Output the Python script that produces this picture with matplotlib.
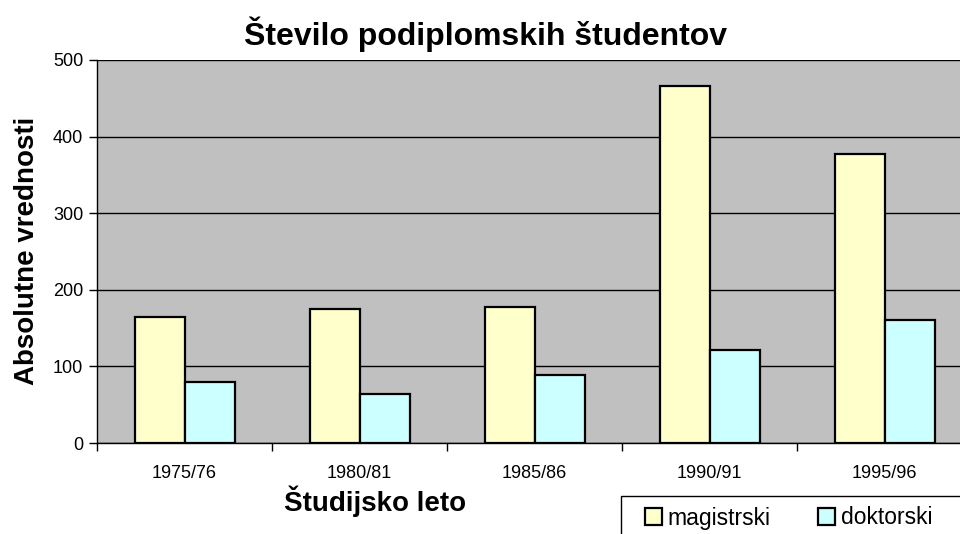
import numpy as np
import matplotlib.pyplot as plt
from matplotlib.patches import Rectangle

plt.rcParams['font.family'] = ['Liberation Sans', 'DejaVu Sans']

leta = ['1975/76', '1980/81', '1985/86', '1990/91', '1995/96']
magistrski = [165, 175, 178, 466, 377]
doktorski = [79, 64, 89, 121, 160]

fig = plt.figure(figsize=(9.6, 5.34), dpi=100)
W, H = 960, 534
# plot area in pixels: left 97, right 972 (clipped by figure), top 60, bottom 443
ax = fig.add_axes([97 / W, (H - 443) / H, 875 / W, (443 - 60) / H])
ax.set_facecolor('#C0C0C0')

x = np.arange(len(leta))
w = 1 / 3.5
b1 = ax.bar(x - w / 2, magistrski, w, color='#FFFFCC', edgecolor='black', linewidth=1.6,
            label='magistrski', zorder=3)
b2 = ax.bar(x + w / 2, doktorski, w, color='#CCFFFF', edgecolor='black', linewidth=1.6,
            label='doktorski', zorder=3)

ax.set_xlim(-0.5, len(leta) - 0.5)
ax.set_ylim(0, 500)
ax.set_yticks(np.arange(0, 501, 100))
ax.yaxis.grid(True, color='black', linewidth=1, zorder=1)
ax.set_axisbelow(True)

ax.set_xticks(x)
ax.set_xticklabels(leta)
ax.set_xticks(np.arange(-0.5, len(leta), 1), minor=True)
ax.tick_params(axis='x', which='major', length=0, pad=16, labelsize=13)
ax.tick_params(axis='x', which='minor', length=6, width=1, direction='out')
ax.tick_params(axis='y', length=6, width=1, labelsize=13, pad=4)

for s in ['top', 'right']:
    ax.spines[s].set_visible(False)
ax.spines['left'].set_linewidth(1)
ax.spines['bottom'].set_linewidth(1)

fig.text(486 / W, 1 - 34 / H, 'Število podiplomskih študentov', ha='center', va='center',
         fontsize=23, fontweight='bold')
fig.text(375 / W, 1 - 501 / H, 'Študijsko leto', ha='center', va='center',
         fontsize=20, fontweight='bold')
fig.text(27 / W, 1 - 251 / H, 'Absolutne vrednosti', ha='center', va='center',
         fontsize=20, fontweight='bold', rotation=90)

# legend frame, partly outside the figure like in the original
fig.patches.append(Rectangle((621 / W, 1 - 545 / H), 360 / W, 49 / H,
                             transform=fig.transFigure, facecolor='white',
                             edgecolor='black', linewidth=1, zorder=1))
leg = fig.legend(handles=[b1, b2], loc='center left', bbox_to_anchor=(645 / W, 1 - 518 / H),
                 bbox_transform=fig.transFigure, ncol=2, fontsize=16.5, frameon=False,
                 handlelength=0.72, handleheight=0.72, handletextpad=0.25,
                 columnspacing=2.1, borderpad=0, borderaxespad=0)
leg.set_zorder(5)

fig.savefig('out.png', dpi=100)
